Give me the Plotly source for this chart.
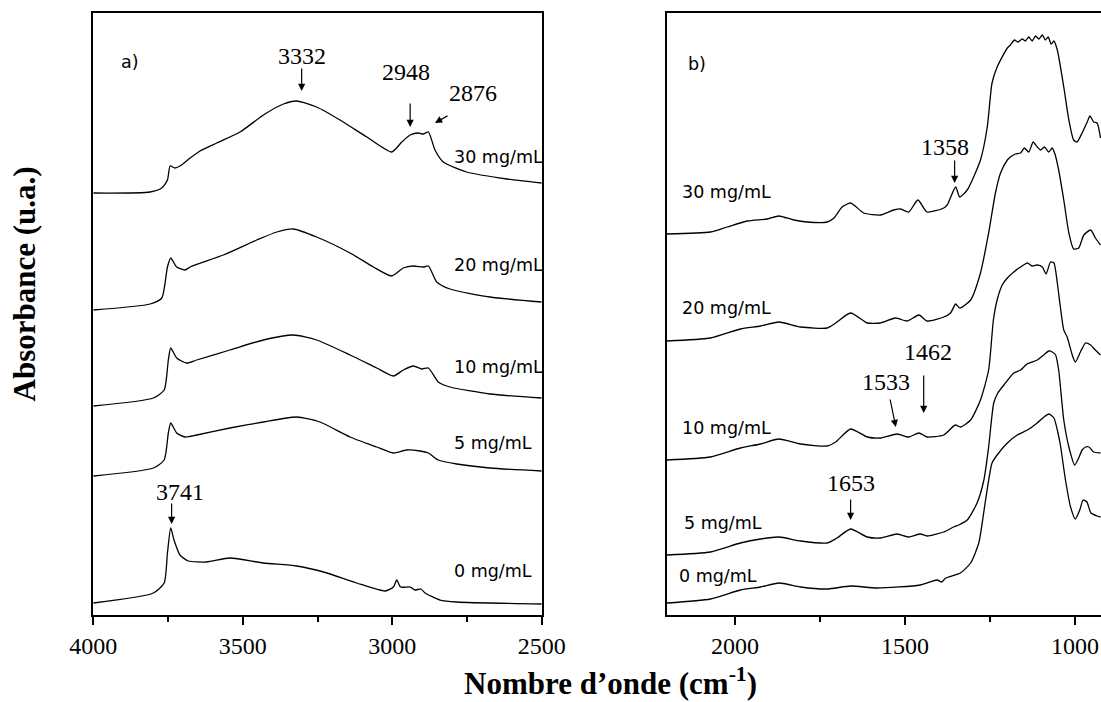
import plotly.graph_objects as go

# ---------------- data ----------------
# Panel a) 4000-2500 cm-1
a_wn_30 = [4000, 3810, 3771, 3752, 3743, 3727, 3710, 3676, 3643, 3587, 3509, 3431, 3364, 3320, 3253, 3175, 3085, 3002, 2968, 2940, 2913, 2896, 2879, 2857, 2829, 2751, 2617, 2500]
a_ab_30 = [4.22, 4.23, 4.27, 4.35, 4.49, 4.47, 4.49, 4.57, 4.64, 4.72, 4.83, 5.00, 5.11, 5.14, 5.08, 4.95, 4.78, 4.63, 4.73, 4.80, 4.82, 4.81, 4.83, 4.65, 4.53, 4.43, 4.36, 4.32]

a_wn_20 = [4000, 3810, 3771, 3752, 3741, 3721, 3693, 3676, 3565, 3453, 3386, 3331, 3253, 3141, 3063, 3002, 2963, 2929, 2896, 2879, 2851, 2807, 2673, 2500]
a_ab_20 = [3.05, 3.11, 3.17, 3.48, 3.57, 3.48, 3.45, 3.48, 3.60, 3.75, 3.83, 3.86, 3.78, 3.62, 3.48, 3.39, 3.47, 3.49, 3.48, 3.49, 3.33, 3.26, 3.18, 3.13]

a_wn_10 = [4000, 3799, 3763, 3749, 3741, 3721, 3688, 3654, 3543, 3431, 3331, 3253, 3141, 3052, 2996, 2963, 2929, 2901, 2879, 2846, 2807, 2673, 2500]
a_ab_10 = [2.09, 2.17, 2.25, 2.55, 2.67, 2.57, 2.52, 2.55, 2.65, 2.75, 2.80, 2.75, 2.60, 2.47, 2.39, 2.45, 2.49, 2.46, 2.47, 2.33, 2.28, 2.21, 2.17]

a_wn_5 = [4000, 3799, 3763, 3749, 3741, 3721, 3693, 3654, 3543, 3431, 3320, 3242, 3141, 3052, 2996, 2952, 2907, 2879, 2846, 2784, 2673, 2500]
a_ab_5 = [1.39, 1.47, 1.55, 1.82, 1.92, 1.82, 1.78, 1.80, 1.87, 1.93, 1.98, 1.93, 1.78, 1.68, 1.62, 1.65, 1.64, 1.62, 1.55, 1.51, 1.47, 1.44]

a_wn_0 = [4000, 3799, 3763, 3752, 3741, 3730, 3710, 3682, 3621, 3543, 3431, 3320, 3230, 3119, 3024, 2996, 2985, 2972, 2940, 2924, 2904, 2890, 2840, 2784, 2500]
a_ab_0 = [0.12, 0.22, 0.32, 0.62, 0.87, 0.75, 0.60, 0.54, 0.53, 0.57, 0.52, 0.49, 0.43, 0.32, 0.24, 0.28, 0.35, 0.28, 0.28, 0.25, 0.26, 0.22, 0.15, 0.13, 0.11]

# Panel b) 2200-925 cm-1
b_wn_30 = [2200, 2072, 2023, 1964, 1905, 1871, 1827, 1788, 1729, 1709, 1685, 1660, 1621, 1572, 1533, 1513, 1489, 1462, 1435, 1386,
           1376, 1351, 1339, 1317, 1278, 1258, 1244, 1229, 1199, 1190, 1178, 1168, 1155, 1146, 1136, 1126, 1116, 1106, 1096, 1087,
           1079, 1070, 1062, 1052, 1033, 1018, 1004, 994, 979, 964, 956, 945, 935, 925]
b_ab_30 = [3.81, 3.83, 3.88, 3.94, 3.96, 3.99, 3.95, 3.93, 3.93, 3.97, 4.08, 4.12, 4.02, 4.00, 4.05, 4.06, 4.03, 4.15, 4.03, 4.07,
           4.10, 4.28, 4.18, 4.25, 4.55, 4.88, 5.32, 5.48, 5.67, 5.70, 5.75, 5.73, 5.76, 5.74, 5.78, 5.74, 5.79, 5.76, 5.80, 5.75,
           5.78, 5.71, 5.74, 5.65, 5.28, 4.95, 4.75, 4.73, 4.82, 4.93, 4.99, 4.93, 4.92, 4.77]

b_wn_20 = [2200, 2072, 1984, 1925, 1871, 1807, 1729, 1704, 1660, 1611, 1572, 1528, 1493, 1459, 1435, 1386, 1366, 1351, 1339, 1307,
           1278, 1254, 1234, 1219, 1199, 1190, 1175, 1160, 1149, 1136, 1123, 1111, 1101, 1090, 1077, 1067, 1059, 1048, 1033, 1018,
           1004, 989, 974, 954, 940, 925]
b_ab_20 = [2.74, 2.77, 2.86, 2.89, 2.93, 2.88, 2.87, 2.92, 3.02, 2.92, 2.92, 2.97, 2.94, 3.00, 2.94, 2.98, 3.02, 3.11, 3.07, 3.15,
           3.42, 3.82, 4.22, 4.42, 4.55, 4.58, 4.61, 4.62, 4.67, 4.63, 4.73, 4.68, 4.65, 4.68, 4.63, 4.67, 4.61, 4.45, 4.15, 3.82,
           3.66, 3.67, 3.80, 3.85, 3.77, 3.70]

b_wn_10 = [2200, 2072, 1984, 1925, 1871, 1807, 1729, 1704, 1660, 1611, 1572, 1523, 1489, 1459, 1435, 1386, 1352, 1337, 1307, 1278,
           1254, 1240, 1229, 1214, 1199, 1180, 1165, 1151, 1140, 1126, 1111, 1096, 1085, 1072, 1062, 1052, 1043, 1033, 1023, 1008,
           999, 984, 969, 954, 940, 925]
b_ab_10 = [1.55, 1.58, 1.67, 1.71, 1.76, 1.71, 1.69, 1.73, 1.86, 1.78, 1.77, 1.81, 1.78, 1.82, 1.78, 1.80, 1.90, 1.88, 1.95, 2.15,
           2.45, 2.95, 3.15, 3.30, 3.37, 3.43, 3.47, 3.50, 3.52, 3.49, 3.50, 3.48, 3.41, 3.53, 3.52, 3.32, 3.08, 2.85, 2.78, 2.60,
           2.53, 2.63, 2.72, 2.70, 2.65, 2.60]

b_wn_5 = [2200, 2072, 1984, 1925, 1871, 1807, 1729, 1700, 1660, 1611, 1572, 1523, 1489, 1455, 1435, 1386, 1357, 1342, 1317, 1288,
          1268, 1254, 1239, 1227, 1209, 1180, 1160, 1141, 1111, 1092, 1077, 1067, 1057, 1048, 1033, 1018, 1001, 989, 979, 969,
          959, 945, 925]
b_ab_5 = [0.60, 0.63, 0.72, 0.76, 0.78, 0.74, 0.72, 0.77, 0.86, 0.78, 0.77, 0.81, 0.78, 0.81, 0.79, 0.83, 0.88, 0.90, 0.95, 1.12,
          1.35, 1.68, 2.12, 2.22, 2.30, 2.42, 2.45, 2.51, 2.55, 2.60, 2.64, 2.63, 2.60, 2.45, 1.95, 1.68, 1.50, 1.57, 1.65, 1.68,
          1.68, 1.63, 1.62]

b_wn_0 = [2200, 2072, 1984, 1925, 1871, 1807, 1729, 1660, 1582, 1455, 1405, 1392, 1380, 1337, 1307, 1283, 1263, 1244, 1229, 1199,
          1170, 1140, 1111, 1091, 1077, 1062, 1052, 1043, 1028, 1013, 999, 986, 976, 965, 953, 935, 925]
b_ab_0 = [0.12, 0.16, 0.25, 0.28, 0.32, 0.28, 0.26, 0.29, 0.27, 0.30, 0.35, 0.33, 0.37, 0.42, 0.52, 0.72, 1.15, 1.52, 1.60, 1.72,
          1.80, 1.85, 1.92, 1.98, 2.01, 1.97, 1.85, 1.70, 1.35, 1.08, 0.96, 1.05, 1.15, 1.13, 1.02, 0.99, 0.98]

conc_labels = ["30 mg/mL", "20 mg/mL", "10 mg/mL", "5 mg/mL", "0 mg/mL"]
a_label_y = [4.58, 3.50, 2.48, 1.725, 0.44]
b_label_y = [4.23, 3.075, 1.875, 0.925, 0.392]
b_label_x = [2163, 2163, 2163, 2155, 2170]

# peak annotations: (text, tip wn, tip y, text wn, text y, ax, ay)
a_peaks = [("3332", 3303, 5.24, 3301, 5.59, 0, -24),
           ("2948", 2940, 4.88, 2955, 5.43, 0, -25),
           ("2876", 2857, 4.92, 2729, 5.22, 14, -8),
           ("3741", 3738, 0.91, 3710, 1.23, 0, -22)]
b_peaks = [("1358", 1354, 4.32, 1381, 4.68, 0, -24),
           ("1462", 1445, 2.02, 1433, 2.63, 0, -39),
           ("1533", 1527, 1.88, 1555, 2.33, -6, -29),
           ("1653", 1660, 0.95, 1658, 1.32, 0, -22)]

# ---------------- figure ----------------
W, H = 1101, 702
fig = go.Figure()
line = dict(color="black", width=1.3, shape="spline", smoothing=0.6)

for wn, ab in [(a_wn_30, a_ab_30), (a_wn_20, a_ab_20), (a_wn_10, a_ab_10), (a_wn_5, a_ab_5), (a_wn_0, a_ab_0)]:
    fig.add_trace(go.Scatter(x=wn, y=ab, mode="lines", line=line, xaxis="x", yaxis="y",
                             showlegend=False, hoverinfo="skip"))
for wn, ab in [(b_wn_30, b_ab_30), (b_wn_20, b_ab_20), (b_wn_10, b_ab_10), (b_wn_5, b_ab_5), (b_wn_0, b_ab_0)]:
    fig.add_trace(go.Scatter(x=wn, y=ab, mode="lines", line=line, xaxis="x2", yaxis="y2",
                             showlegend=False, hoverinfo="skip"))

y_dom = [1 - 615 / H, 1 - 13 / H]
serif = "Liberation Serif"
sans = "Comic Sans MS, DejaVu Sans, sans-serif"

xcommon = dict(showgrid=False, zeroline=False, showline=True, linecolor="black", linewidth=1.6,
               automargin=False,
               ticks="outside", ticklen=8, tickwidth=1.5, tickcolor="black", dtick=500, tick0=0,
               minor=dict(ticks="outside", ticklen=5, tickwidth=1.5, tickcolor="black", dtick=250, tick0=0,
                          showgrid=False),
               tickfont=dict(family=serif, size=24, color="black"), mirror=True)
ycommon = dict(showgrid=False, zeroline=False, showline=True, linecolor="black", linewidth=1.6,
               automargin=False, showticklabels=False, ticks="", range=[0, 6.02], domain=y_dom)

fig.update_layout(
    width=W, height=H, margin=dict(l=0, r=0, t=0, b=0, autoexpand=False),
    paper_bgcolor="white", plot_bgcolor="white",
    font=dict(family=serif, color="black"),
    xaxis=dict(xcommon, domain=[93.3 / W, 541.7 / W], range=[4000, 2500], anchor="y"),
    xaxis2=dict(xcommon, domain=[667 / W, 1.0], range=[2200, 923.5], anchor="y2"),
    yaxis=dict(ycommon, anchor="x", mirror=True),
    yaxis2=dict(ycommon, anchor="x2", mirror=False),
)

ann = []
for lab, yy in zip(conc_labels, a_label_y):
    ann.append(dict(x=2800, y=yy, xref="x", yref="y", text=lab, showarrow=False, xanchor="left",
                    yanchor="middle", font=dict(family=sans, size=17.5, color="black")))
for lab, xx, yy in zip(conc_labels, b_label_x, b_label_y):
    ann.append(dict(x=xx, y=yy, xref="x2", yref="y2", text=lab, showarrow=False, xanchor="left",
                    yanchor="middle", font=dict(family=sans, size=17.5, color="black")))

for peaks, xr, yr in [(a_peaks, "x", "y"), (b_peaks, "x2", "y2")]:
    for txt, tx, ty, lx, ly, axo, ayo in peaks:
        ann.append(dict(x=lx, y=ly, xref=xr, yref=yr, text=txt, showarrow=False,
                        font=dict(family=serif, size=24, color="black")))
        ann.append(dict(x=tx, y=ty, xref=xr, yref=yr, text="", showarrow=True, ax=axo, ay=ayo,
                        arrowhead=2, arrowsize=1.2, arrowwidth=1.2, arrowcolor="black"))

ann.append(dict(x=119 / W, y=1 - 50 / H, xref="paper", yref="paper", text="a)", showarrow=False,
                font=dict(family=sans, size=17.5, color="black")))
ann.append(dict(x=697 / W, y=1 - 52 / H, xref="paper", yref="paper", text="b)", showarrow=False,
                font=dict(family=sans, size=17.5, color="black")))

ann.append(dict(x=610 / W, y=0, xref="paper", yref="paper",
                text="<b>Nombre d’onde (cm<sup>-1</sup>)</b>", showarrow=False,
                xanchor="center", yanchor="bottom", borderpad=0,
                font=dict(family=serif, size=31, color="black")))
ann.append(dict(x=24 / W, y=1 - 284.5 / H, xref="paper", yref="paper",
                text="<b>Absorbance (u.a.)</b>", showarrow=False, textangle=-90,
                xanchor="center", yanchor="middle", font=dict(family=serif, size=31, color="black")))

fig.update_layout(annotations=ann)
fig.write_html("out.html", config={"displayModeBar": False},
               post_script="document.body.style.margin='0';document.body.style.padding='0';"
                           "document.body.style.overflow='hidden';")
